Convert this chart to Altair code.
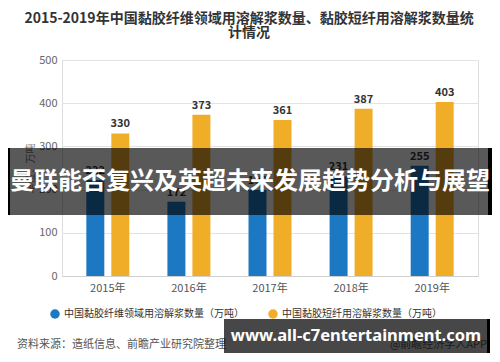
import altair as alt
import pandas as pd

years = ["2015年", "2016年", "2017年", "2018年", "2019年"]
fiber = [222, 172, 199, 231, 255]
staple = [330, 373, 361, 387, 403]
series = ["中国黏胶纤维领域用溶解浆数量（万吨）", "中国黏胶短纤用溶解浆数量（万吨）"]
colors = ["#1d78c3", "#f0ad28"]
y_ticks = [0, 100, 200, 300, 400, 500]

title_lines = ["2015-2019年中国黏胶纤维领域用溶解浆数量、黏胶短纤用溶解浆数量统", "计情况"]
source_text = "资料来源：造纸信息、前瞻产业研究院整理"
credit_text = "@前瞻经济学人APP"
banner_text = "曼联能否复兴及英超未来发展趋势分析与展望"
url_text = "www.all-c7entertainment.com"

rows = []
for i, yr in enumerate(years):
    rows.append({"year": yr, "series": series[0], "value": fiber[i]})
    rows.append({"year": yr, "series": series[1], "value": staple[i]})
df = pd.DataFrame(rows)

FONT = "Noto Sans CJK SC"
L, T = 62, 60  # plot origin on page (used only for overlay decorations)

x = alt.X("year:N", sort=years,
          scale=alt.Scale(paddingInner=0.47, paddingOuter=0.3),
          axis=alt.Axis(title=None, labelAngle=0, labelFontSize=11, labelColor="#555",
                        labelFont=FONT, domainColor="#cfcfcf", ticks=False, labelPadding=6))
xo = alt.XOffset("series:N", sort=series, scale=alt.Scale(paddingInner=0.28))
y = alt.Y("value:Q", scale=alt.Scale(domain=[0, 500]),
          axis=alt.Axis(values=y_ticks, title="单位：万吨", titleFontSize=10, titleColor="#777",
                        titleFont=FONT, titleFontWeight="normal", labelFontSize=11,
                        labelColor="#666", labelFont=FONT, gridColor="#e3e3e3",
                        domain=False, ticks=False, labelPadding=5, titlePadding=3))

base = alt.Chart(df)
bars = base.mark_bar().encode(
    x=x, xOffset=xo, y=y,
    color=alt.Color("series:N", sort=series,
                    scale=alt.Scale(domain=series, range=colors),
                    legend=alt.Legend(title=None, orient="none", legendX=-12, legendY=249,
                                      direction="horizontal", symbolType="circle",
                                      symbolSize=90, symbolStrokeWidth=0, labelFontSize=10,
                                      labelLimit=0, labelColor="#333", labelFont=FONT,
                                      columnPadding=24)),
)
labels = base.mark_text(dy=-9, fontWeight="bold", fontSize=11, color="#333", font=FONT).encode(
    x=x, xOffset=xo, y=y, text="value:Q"
)

one = alt.Data(values=[{"a": 1}])


def txt(text, px, py, font=FONT, **kw):
    return alt.Chart(one).mark_text(text=text, font=font, **kw).encode(
        x=alt.value(px - L), y=alt.value(py - T))


def box(x1, x2, y1, y2, **kw):
    return alt.Chart(one).mark_rect(**kw).encode(
        x=alt.value(x1 - L), x2=alt.value(x2 - L), y=alt.value(y1 - T), y2=alt.value(y2 - T))


title1 = txt(title_lines[0], 249, 19, fontSize=14, fontWeight="bold", color="#333",
             align="center", baseline="middle")
title2 = txt(title_lines[1], 249, 33, fontSize=14, fontWeight="bold", color="#333",
             align="center", baseline="middle")
source = txt(source_text, 17, 345, fontSize=11, color="#555", align="left", baseline="middle")
credit = txt(credit_text, 487, 345, fontSize=11, color="#666", align="right", baseline="middle")

banner = box(10, 488, 148, 215, color="black", opacity=0.65)
bl = box(8, 10, 148, 215, color="black")
br = box(488, 492, 148, 215, color="black")
banner_t = txt(banner_text, 250, 182, fontSize=24, fontWeight="bold", color="white",
               align="center", baseline="middle")

urlbox = box(224, 487, 319, 353, color="black", opacity=0.72)
urlr = box(487, 490, 319, 353, color="black")
url_t = txt(url_text, 356, 336, font="Noto Sans", fontSize=16.5, fontWeight="bold",
            color="white", align="center", baseline="middle")

chart = alt.layer(
    bars, labels, title1, title2, source, credit,
    banner, bl, br, banner_t, urlbox, urlr, url_t
).properties(
    width=416, height=216,
    autosize=alt.AutoSizeParams(type="none"),
    padding={"left": 54, "top": 52, "right": 14, "bottom": 78},
).configure_view(stroke=None).configure(background="white")

chart.save("out.html", embed_options={"renderer": "svg", "actions": False})
